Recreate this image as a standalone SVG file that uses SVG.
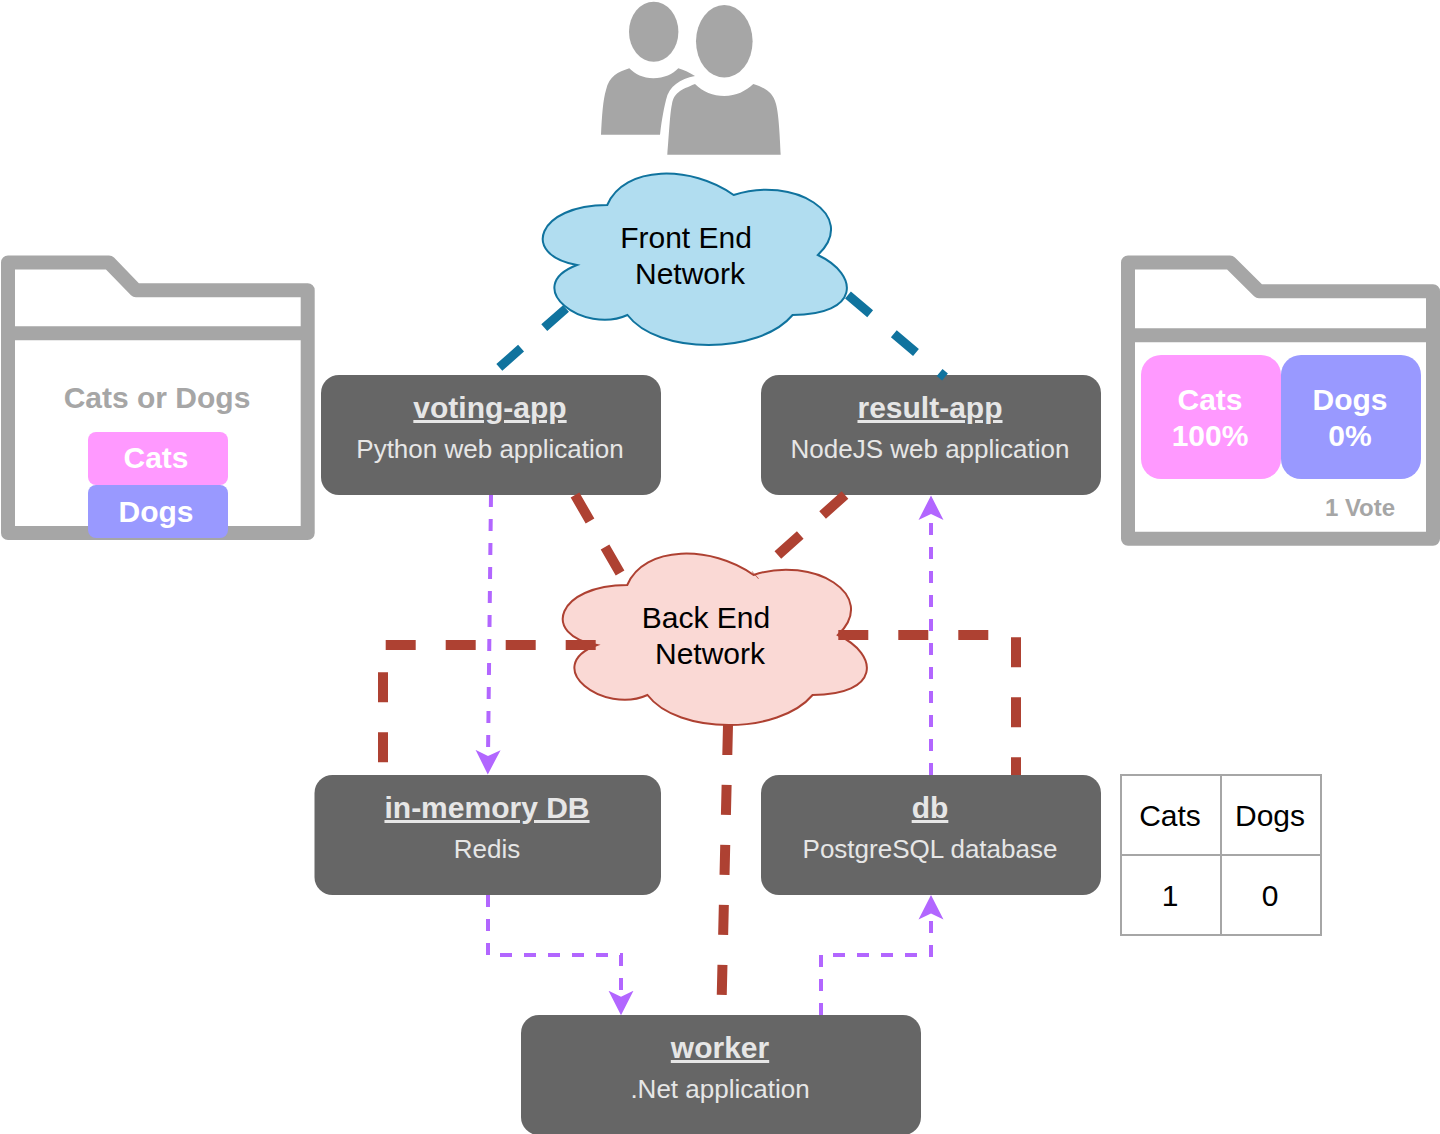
<svg xmlns="http://www.w3.org/2000/svg" width="1440" height="1134" viewBox="0 0 1440 1134">
<style>
text{font-family:"Liberation Sans",Arial,sans-serif;text-anchor:middle}
.node{fill:#666666}
.title{font-size:30px;font-weight:bold;fill:#e6e6e6;text-decoration:underline}
.sub{font-size:26px;fill:#e6e6e6}
.cloudtext{font-size:30px;fill:#000000}
.folder{fill:#ffffff;stroke:#a6a6a6;stroke-width:14;stroke-linejoin:round}
.btn{font-size:30px;font-weight:bold;fill:#ffffff}
.grey{font-weight:bold;fill:#a6a6a6}
.cell{font-size:30px;fill:#000000}
.cats{fill:#ff99ff}
.dogs{fill:#9999ff}
.blue{fill:none;stroke:#10739e;stroke-width:9;stroke-dasharray:29 31}
.red{fill:none;stroke:#ae4132;stroke-width:10;stroke-dasharray:30 30}
.purple{fill:none;stroke:#b266ff;stroke-width:4;stroke-dasharray:12 12;marker-end:url(#arrow)}
</style>
<defs>
<path id="cloud" stroke-width="2" d="M84.25,50 C14,50 -3,100 53.92,110 C-3,132 60.66,180 104.47,160 C134.8,200 235.9,200 269.6,160 C337,160 337,120 294.88,100 C337,60 269.6,20 210.63,40 C168.5,10 101.1,10 84.25,50 Z"/>
<marker id="arrow" markerUnits="userSpaceOnUse" markerWidth="26" markerHeight="27" viewBox="0 0 26 27" refX="6" refY="13" orient="auto">
<path d="M24.500,13 L0,0.500 L6,13 L0,25.500 Z" fill="#b266ff"/>
</marker>
</defs>
<rect width="1440" height="1134" fill="#ffffff"/>

<g id="users" fill="#a6a6a6">
<ellipse cx="653.7" cy="31.7" rx="24.7" ry="30"/>
<ellipse cx="724.3" cy="41.3" rx="28.3" ry="36.3"/>
<path d="M601,134.7 C602,115 603,100 606,90 C609,76 618,72 629.3,68.3 C635,74 643,78.3 653.3,78.3 C664,78.3 673,74 678.3,68.3 C684,70 690,73 695,76 C680,79 669,86 666,100 C663,112 661,125 660,134.7 Z"/>
<path d="M667.3,154.7 C669,135 670,112 672,104 C674,93 680,90 695,84 C703,92 713,96 724.3,96 C736,96 746,91 753.3,84 C766,88 773,93 776,104 C779,115 780,140 780.7,154.7 Z"/>
</g>

<g id="front-end-network">
<use href="#cloud" transform="translate(523,155)" fill="#b1ddf0" stroke="#10739e"/>
<text class="cloudtext" x="686" y="248">Front End</text>
<text class="cloudtext" x="690" y="284">Network</text>
</g>
<g id="back-end-network">
<use href="#cloud" transform="translate(543,535)" fill="#fad9d5" stroke="#ae4132"/>
<text class="cloudtext" x="706" y="628">Back End</text>
<text class="cloudtext" x="710" y="664">Network</text>
</g>

<g id="vote-page">
<path class="folder" d="M8,262.5 H109 L136,290.3 H307.7 V533 H8 Z"/>
<path class="folder" d="M8,333.3 H307.7"/>
<text class="grey" font-size="30" x="157" y="408">Cats or Dogs</text>
<rect class="cats" x="88" y="432" width="140" height="53" rx="8"/>
<rect class="dogs" x="88" y="485" width="140" height="53" rx="8"/>
<text class="btn" x="156" y="468">Cats</text>
<text class="btn" x="156" y="522">Dogs</text>
</g>

<g id="result-page">
<path class="folder" d="M1128,262.5 H1230 L1259,291.3 H1433 V538.7 H1128 Z"/>
<path class="folder" d="M1128,335.3 H1433"/>
<rect class="cats" x="1141" y="355" width="140" height="124" rx="20"/>
<rect class="dogs" x="1281" y="355" width="140" height="124" rx="20"/>
<text class="btn" x="1210" y="410">Cats</text>
<text class="btn" x="1210" y="446">100%</text>
<text class="btn" x="1350" y="410">Dogs</text>
<text class="btn" x="1350" y="446">0%</text>
<text class="grey" font-size="24" x="1360" y="516">1 Vote</text>
</g>

<g id="voting-app">
<rect class="node" x="321" y="375" width="340" height="120" rx="18"/>
<text class="title" x="490" y="418">voting-app</text>
<text class="sub" x="490" y="458">Python web application</text>
</g>
<g id="result-app">
<rect class="node" x="761" y="375" width="340" height="120" rx="18"/>
<text class="title" x="930" y="418">result-app</text>
<text class="sub" x="930" y="458">NodeJS web application</text>
</g>
<g id="in-memory-db">
<rect class="node" x="314.500" y="775" width="346.500" height="120" rx="18"/>
<text class="title" x="487" y="818">in-memory DB</text>
<text class="sub" x="487" y="858">Redis</text>
</g>
<g id="db">
<rect class="node" x="761" y="775" width="340" height="120" rx="18"/>
<text class="title" x="930" y="818">db</text>
<text class="sub" x="930" y="858">PostgreSQL database</text>
</g>
<g id="worker">
<rect class="node" x="521" y="1015" width="400" height="120" rx="18"/>
<text class="title" x="720" y="1058">worker</text>
<text class="sub" x="720" y="1098">.Net application</text>
</g>

<g id="votes-table">
<path d="M1121,775 H1321 V935 H1121 Z M1221,775 V935 M1121,855 H1321" fill="#ffffff" stroke="#a6a6a6" stroke-width="2"/>
<text class="cell" x="1170" y="826">Cats</text>
<text class="cell" x="1270" y="826">Dogs</text>
<text class="cell" x="1170" y="906">1</text>
<text class="cell" x="1270" y="906">0</text>
</g>

<g id="connectors">
<path class="blue" d="M566,308.500 L497,369.500"/>
<path class="blue" d="M848,295 L945,377"/>
<path class="red" d="M575,495 L623,578"/>
<path class="red" d="M845,495 L755,575.300"/>
<path class="red" d="M595.700,645 H383 V775"/>
<path class="red" d="M838.300,635 H1016 V775"/>
<path class="red" d="M728,725 L721.300,1015"/>
<path class="purple" d="M491,495 L488,756"/>
<path class="purple" d="M931,775 V514"/>
<path class="purple" d="M488,895 V955 H621 V996.700"/>
<path class="purple" d="M821,1015 V955 H931 V913.500"/>
</g>
</svg>
